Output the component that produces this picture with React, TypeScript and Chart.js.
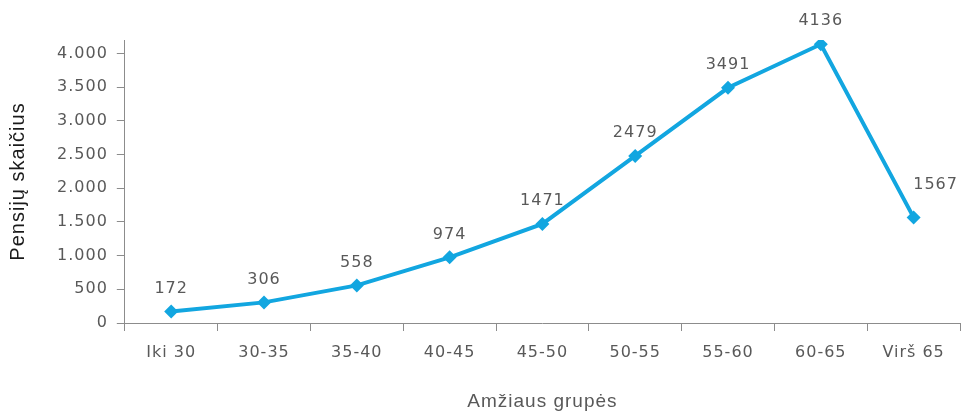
import React, { useEffect, useRef } from "react";
import { Chart, registerables } from "chart.js";

Chart.register(...registerables);

const categories = ["Iki 30", "30-35", "35-40", "40-45", "45-50", "50-55", "55-60", "60-65", "Virš 65"];
const pensions = [172, 306, 558, 974, 1471, 2479, 3491, 4136, 1567];
const yTicks = [0, 500, 1000, 1500, 2000, 2500, 3000, 3500, 4000];
const yTitle = "Pensijų skaičius";
const xTitle = "Amžiaus grupės";

const LINE = "#12A6E0";
const TEXT = "#595959";
const AXIS = "#8c8c8c";
const SPACING = "1px";

const fmt = (v: number) => String(v).replace(/\B(?=(\d{3})+(?!\d))/g, ".");

const spacingPlugin = {
  id: "spacing",
  beforeLayout(chart: any) {
    chart.ctx.letterSpacing = SPACING;
  },
  beforeDraw(chart: any) {
    chart.ctx.letterSpacing = SPACING;
  },
};

const valueLabels = {
  id: "valueLabels",
  afterDatasetsDraw(chart: any) {
    const ctx = chart.ctx;
    const meta = chart.getDatasetMeta(0);
    ctx.save();
    ctx.letterSpacing = SPACING;
    ctx.font = "16px 'DejaVu Sans'";
    ctx.fillStyle = TEXT;
    ctx.textAlign = "center";
    ctx.textBaseline = "middle";
    const n = meta.data.length;
    meta.data.forEach((pt: any, i: number) => {
      const v = pensions[i];
      let x = pt.x;
      let y = pt.y - 23;
      if (i === n - 1) {
        x += 22;
        y -= 10;
      }
      ctx.fillText(String(v), x, y);
    });
    ctx.restore();
  },
};

export default function App() {
  const ref = useRef<HTMLCanvasElement>(null);
  useEffect(() => {
    if (!ref.current) return;
    const chart = new Chart(ref.current, {
      type: "line",
      data: {
        labels: categories,
        datasets: [
          {
            data: pensions,
            borderColor: LINE,
            backgroundColor: LINE,
            borderWidth: 4,
            pointStyle: "rectRot",
            pointRadius: 7,
            pointBorderWidth: 0,
            pointBackgroundColor: LINE,
            tension: 0,
          },
        ],
      },
      options: {
        animation: false,
        responsive: false,
        devicePixelRatio: 1,
        layout: { padding: { top: 40, right: 0, bottom: 0, left: 0 } },
        plugins: {
          legend: { display: false },
          tooltip: { enabled: false },
        },
        scales: {
          x: {
            offset: true,
            afterFit(scale: any) {
              scale.paddingRight = 0;
              scale.paddingLeft = 0;
            },
            grid: {
              offset: true,
              drawOnChartArea: false,
              drawTicks: true,
              tickLength: 8,
              color: AXIS,
            },
            border: { display: true, color: AXIS, width: 1 },
            ticks: {
              color: TEXT,
              padding: 12,
              maxRotation: 0,
              autoSkip: false,
              font: { family: "'DejaVu Sans'", size: 16 },
            },
            title: {
              display: true,
              text: xTitle,
              color: TEXT,
              font: { family: "'Liberation Sans', Arial", size: 19 },
              padding: { top: 16, bottom: 0 },
            },
          },
          y: {
            min: 0,
            max: 4200,
            afterBuildTicks(scale: any) {
              scale.ticks = yTicks.map((v) => ({ value: v }));
            },
            grid: {
              drawOnChartArea: false,
              drawTicks: true,
              tickLength: 8,
              color: AXIS,
            },
            border: { display: true, color: AXIS, width: 1 },
            ticks: {
              color: TEXT,
              padding: 9,
              font: { family: "'DejaVu Sans'", size: 16 },
              callback: (v: any) => fmt(Number(v)),
            },
            title: {
              display: true,
              text: yTitle,
              color: "#1a1a1a",
              font: { family: "'Liberation Sans', Arial", size: 20 },
              padding: { top: 6, bottom: 18 },
            },
          },
        },
      },
      plugins: [spacingPlugin, valueLabels],
    });
    return () => chart.destroy();
  }, []);
  return (
    <div style={{ position: "absolute", left: 0, top: 0, width: 961, height: 413, overflow: "hidden" }}>
      <canvas ref={ref} width={967} height={413} style={{ display: "block" }} />
    </div>
  );
}
